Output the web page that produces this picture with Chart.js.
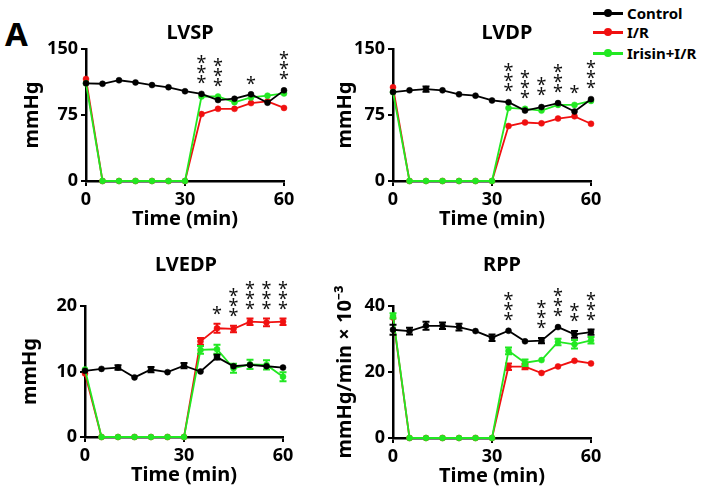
<!DOCTYPE html>
<html>
<head>
<meta charset="utf-8">
<script src="https://cdn.jsdelivr.net/npm/chart.js@4.4.0/dist/chart.umd.min.js"></script>
<style>
  body { margin: 0; background: #fff; width: 704px; height: 499px; position: relative; overflow: hidden; font-family: 'Noto Sans', sans-serif; }
  canvas { position: absolute; }
  #lblA { position: absolute; left: 5px; top: 17px; font-weight: bold; font-size: 33px; line-height: 1; }
  .leg { position: absolute; left: 593px; height: 18px; line-height: 18px; font-weight: bold; font-size: 15px; display: flex; align-items: center; }
  .sw { width: 30px; height: 3px; margin-right: 4px; position: relative; }
  .sw::after { content: ''; position: absolute; left: 11px; top: -3px; width: 8px; height: 8px; border-radius: 50%; background: inherit; }
</style>
</head>
<body>
<div id="lblA">A</div>
<div class="leg" style="top:4px"><span class="sw" style="background:#000"></span>Control</div>
<div class="leg" style="top:23px"><span class="sw" style="background:#f01010"></span>I/R</div>
<div class="leg" style="top:44px"><span class="sw" style="background:#22e822"></span>Irisin+I/R</div>

<canvas id="c1" width="330" height="250" style="left:0;top:0"></canvas>
<canvas id="c2" width="374" height="250" style="left:330px;top:0"></canvas>
<canvas id="c3" width="330" height="249" style="left:0;top:250px"></canvas>
<canvas id="c4" width="374" height="249" style="left:330px;top:250px"></canvas>

<script>
// time points (min)
const times = [0, 5, 10, 15, 20, 25, 30, 35, 40, 45, 50, 55, 60];

// LVSP (mmHg)
const lvspControl = [111, 110.5, 114.5, 112, 109, 106.5, 102, 99, 92, 93.5, 98.5, 89, 103];
const lvspIR      = [116, 0, 0, 0, 0, 0, 0, 76, 82, 82, 88.5, 90.5, 83];
const lvspIrisin  = [111, 0, 0, 0, 0, 0, 0, 96, 96, 89.5, 95, 97, 99.5];
const lvspControlErr = [1, 1, 1, 1, 1, 1, 1, 1, 1.5, 1.5, 1, 1, 1.5];
const lvspIRErr      = [1, 0, 0, 0, 0, 0, 0, 1, 1, 1, 1, 1, 1];
const lvspIrisinErr  = [1, 0, 0, 0, 0, 0, 0, 1, 1, 1, 1, 1, 1];
const lvspStars = [0, 0, 0, 0, 0, 0, 0, 3, 3, 0, 1, 0, 3];

// LVDP (mmHg)
const lvdpControl = [101, 103, 104.5, 103, 98.5, 97, 91.5, 89.5, 80, 84, 88.5, 79, 93];
const lvdpIR      = [106.5, 0, 0, 0, 0, 0, 0, 62.5, 66.5, 65.5, 71, 73.5, 65];
const lvdpIrisin  = [101, 0, 0, 0, 0, 0, 0, 83, 82, 80, 86.5, 86.5, 91];
const lvdpControlErr = [1, 1, 3, 1, 1, 1, 1, 1, 1, 2, 1, 2, 1];
const lvdpIRErr      = [1, 0, 0, 0, 0, 0, 0, 1, 1, 1, 1, 1, 1];
const lvdpIrisinErr  = [1, 0, 0, 0, 0, 0, 0, 1, 1, 1, 1, 2, 1];
const lvdpStars = [0, 0, 0, 0, 0, 0, 0, 3, 3, 2, 3, 1, 3];

// LVEDP (mmHg)
const lvedpControl = [10.1, 10.4, 10.6, 9.1, 10.3, 9.9, 10.9, 10.0, 12.2, 10.8, 11.0, 10.8, 10.6];
const lvedpIR      = [9.7, 0, 0, 0, 0, 0, 0, 14.6, 16.6, 16.5, 17.6, 17.5, 17.6];
const lvedpIrisin  = [10.3, 0, 0, 0, 0, 0, 0, 13.3, 13.4, 10.5, 11.1, 11.0, 9.2];
const lvedpControlErr = [0.2, 0.15, 0.35, 0.15, 0.4, 0.15, 0.4, 0.15, 0.35, 0.3, 0.3, 0.3, 0.2];
const lvedpIRErr      = [0.2, 0, 0, 0, 0, 0, 0, 0.5, 0.7, 0.5, 0.5, 0.6, 0.5];
const lvedpIrisinErr  = [0.2, 0, 0, 0, 0, 0, 0, 0.6, 0.7, 0.7, 0.7, 0.7, 0.7];
const lvedpStars = [0, 0, 0, 0, 0, 0, 0, 0, 1, 3, 3, 3, 3];

// RPP (mmHg/min x 10^-3)
const rppControl = [32.8, 32.4, 34, 34, 33.6, 32.4, 30.4, 32.5, 29.3, 29.5, 33.6, 31.4, 32.1];
const rppIR      = [36.5, 0, 0, 0, 0, 0, 0, 21.6, 21.6, 19.7, 21.7, 23.4, 22.6];
const rppIrisin  = [37, 0, 0, 0, 0, 0, 0, 26.4, 22.8, 23.6, 29.1, 28.4, 29.6];
const rppControlErr = [1.5, 1, 1.2, 1, 1, 0.3, 1, 0.3, 0.3, 0.8, 0.3, 1, 0.8];
const rppIRErr      = [0.5, 0, 0, 0, 0, 0, 0, 1, 0.8, 0.3, 0.3, 0.3, 0.3];
const rppIrisinErr  = [0.8, 0, 0, 0, 0, 0, 0, 1, 1, 0.3, 1, 1.3, 1];
const rppStars = [0, 0, 0, 0, 0, 0, 0, 3, 0, 3, 3, 2, 3];

const FONT = "'Noto Sans', sans-serif";
const BLACK = '#000';
const RED = '#f01010';
const GREEN = '#22e822';

const errorBars = {
  id: 'errorBars',
  afterDatasetDraw(chart, args) {
    const ds = chart.data.datasets[args.index];
    if (!ds.errs) return;
    const ctx = chart.ctx, ys = chart.scales.y;
    ctx.save();
    ctx.strokeStyle = ds.borderColor;
    ctx.lineWidth = 2;
    args.meta.data.forEach((pt, i) => {
      const e = ds.errs[i];
      if (!e) return;
      const v = ds.data[i].y;
      const y1 = ys.getPixelForValue(v + e), y2 = ys.getPixelForValue(v - e);
      if (y2 - y1 < 4) return;
      ctx.beginPath();
      ctx.moveTo(pt.x, y1); ctx.lineTo(pt.x, y2);
      ctx.moveTo(pt.x - 3.5, y1); ctx.lineTo(pt.x + 3.5, y1);
      ctx.moveTo(pt.x - 3.5, y2); ctx.lineTo(pt.x + 3.5, y2);
      ctx.stroke();
    });
    ctx.restore();
  }
};

const stars = {
  id: 'stars',
  afterDatasetsDraw(chart, args, opts) {
    if (!opts.counts) return;
    const ctx = chart.ctx, xs = chart.scales.x, ys = chart.scales.y;
    ctx.save();
    ctx.font = '18px ' + FONT;
    ctx.fillStyle = '#111';
    ctx.textAlign = 'center';
    ctx.textBaseline = 'middle';
    opts.counts.forEach((n, i) => {
      if (!n) return;
      let top = Infinity;
      chart.data.datasets.forEach(ds => {
        const v = ds.data[i].y + (ds.errs ? ds.errs[i] : 0);
        top = Math.min(top, ys.getPixelForValue(v));
      });
      const x = xs.getPixelForValue(times[i]);
      for (let k = 0; k < n; k++) {
        ctx.fillText('*', x, top - 9 - k * 10);
      }
    });
    ctx.restore();
  }
};

const panelTitle = {
  id: 'panelTitle',
  afterDraw(chart, args, opts) {
    const ctx = chart.ctx;
    ctx.save();
    ctx.font = 'bold 20px ' + FONT;
    ctx.fillStyle = '#000';
    ctx.textAlign = 'center';
    ctx.textBaseline = 'middle';
    ctx.fillText(opts.text, opts.x, opts.y);
    ctx.restore();
  }
};

function series(label, values, errs, color, order) {
  return {
    label: label,
    data: values.map((v, i) => ({ x: times[i], y: v })),
    errs: errs,
    borderColor: color,
    backgroundColor: color,
    pointBackgroundColor: color,
    pointBorderColor: color,
    pointRadius: 3,
    pointBorderWidth: 0.5,
    borderWidth: 1.8,
    tension: 0,
    clip: false,
    order: order
  };
}

function makePanel(id, p) {
  new Chart(document.getElementById(id), {
    type: 'line',
    data: {
      datasets: [
        series('Control', p.control, p.controlErr, BLACK, 0),
        series('I/R', p.ir, p.irErr, RED, 2),
        series('Irisin+I/R', p.irisin, p.irisinErr, GREEN, 1)
      ]
    },
    options: {
      responsive: false,
      animation: false,
      layout: { padding: p.pad },
      plugins: {
        legend: { display: false },
        tooltip: { enabled: false },
        stars: { counts: p.stars },
        panelTitle: { text: p.title, x: p.titleX, y: p.titleY }
      },
      scales: {
        x: {
          type: 'linear', min: 0, max: 60,
          ticks: { stepSize: 30, color: '#000', padding: 3, font: { family: FONT, size: 18, weight: 'bold' } },
          grid: { drawOnChartArea: false, drawTicks: true, tickLength: 5, color: '#000', lineWidth: 2 },
          border: { color: '#000', width: 2.5 },
          title: { display: true, text: 'Time (min)', color: '#000', padding: 0, font: { family: FONT, size: 20, weight: 'bold' } },
          afterFit(s) { s.height = 50; }
        },
        y: {
          min: 0, max: p.ymax,
          ticks: { stepSize: p.ystep, color: '#000', padding: 3, font: { family: FONT, size: 18, weight: 'bold' } },
          grid: { drawOnChartArea: false, drawTicks: true, tickLength: 5, color: '#000', lineWidth: 2 },
          border: { color: '#000', width: 2.5 },
          title: { display: true, text: p.ytitle, color: '#000', padding: 0, font: { family: FONT, size: 20, weight: 'bold' } },
          afterFit(s) { s.width = p.yw; }
        }
      }
    },
    plugins: [errorBars, stars, panelTitle]
  });
}

makePanel('c1', {
  title: 'LVSP', titleX: 190, titleY: 33, ytitle: 'mmHg', ymax: 150, ystep: 75,
  control: lvspControl, ir: lvspIR, irisin: lvspIrisin,
  controlErr: lvspControlErr, irErr: lvspIRErr, irisinErr: lvspIrisinErr,
  stars: lvspStars, yw: 66, pad: { left: 20, right: 46, top: 49, bottom: 19 }
});
makePanel('c2', {
  title: 'LVDP', titleX: 177, titleY: 33, ytitle: 'mmHg', ymax: 150, ystep: 75,
  control: lvdpControl, ir: lvdpIR, irisin: lvdpIrisin,
  controlErr: lvdpControlErr, irErr: lvdpIRErr, irisinErr: lvdpIrisinErr,
  stars: lvdpStars, yw: 60, pad: { left: 3, right: 113, top: 49, bottom: 19 }
});
makePanel('c3', {
  title: 'LVEDP', titleX: 186, titleY: 15, ytitle: 'mmHg', ymax: 20, ystep: 10,
  control: lvedpControl, ir: lvedpIR, irisin: lvedpIrisin,
  controlErr: lvedpControlErr, irErr: lvedpIRErr, irisinErr: lvedpIrisinErr,
  stars: lvedpStars, yw: 67, pad: { left: 18, right: 47, top: 56, bottom: 12 }
});
makePanel('c4', {
  title: 'RPP', titleX: 172, titleY: 15, ytitle: 'mmHg/min \u00D7 10\u207B\u00B3', ymax: 40, ystep: 20,
  control: rppControl, ir: rppIR, irisin: rppIrisin,
  controlErr: rppControlErr, irErr: rppIRErr, irisinErr: rppIrisinErr,
  stars: rppStars, yw: 60, pad: { left: 3, right: 113, top: 56, bottom: 11 }
});
</script>
</body>
</html>
